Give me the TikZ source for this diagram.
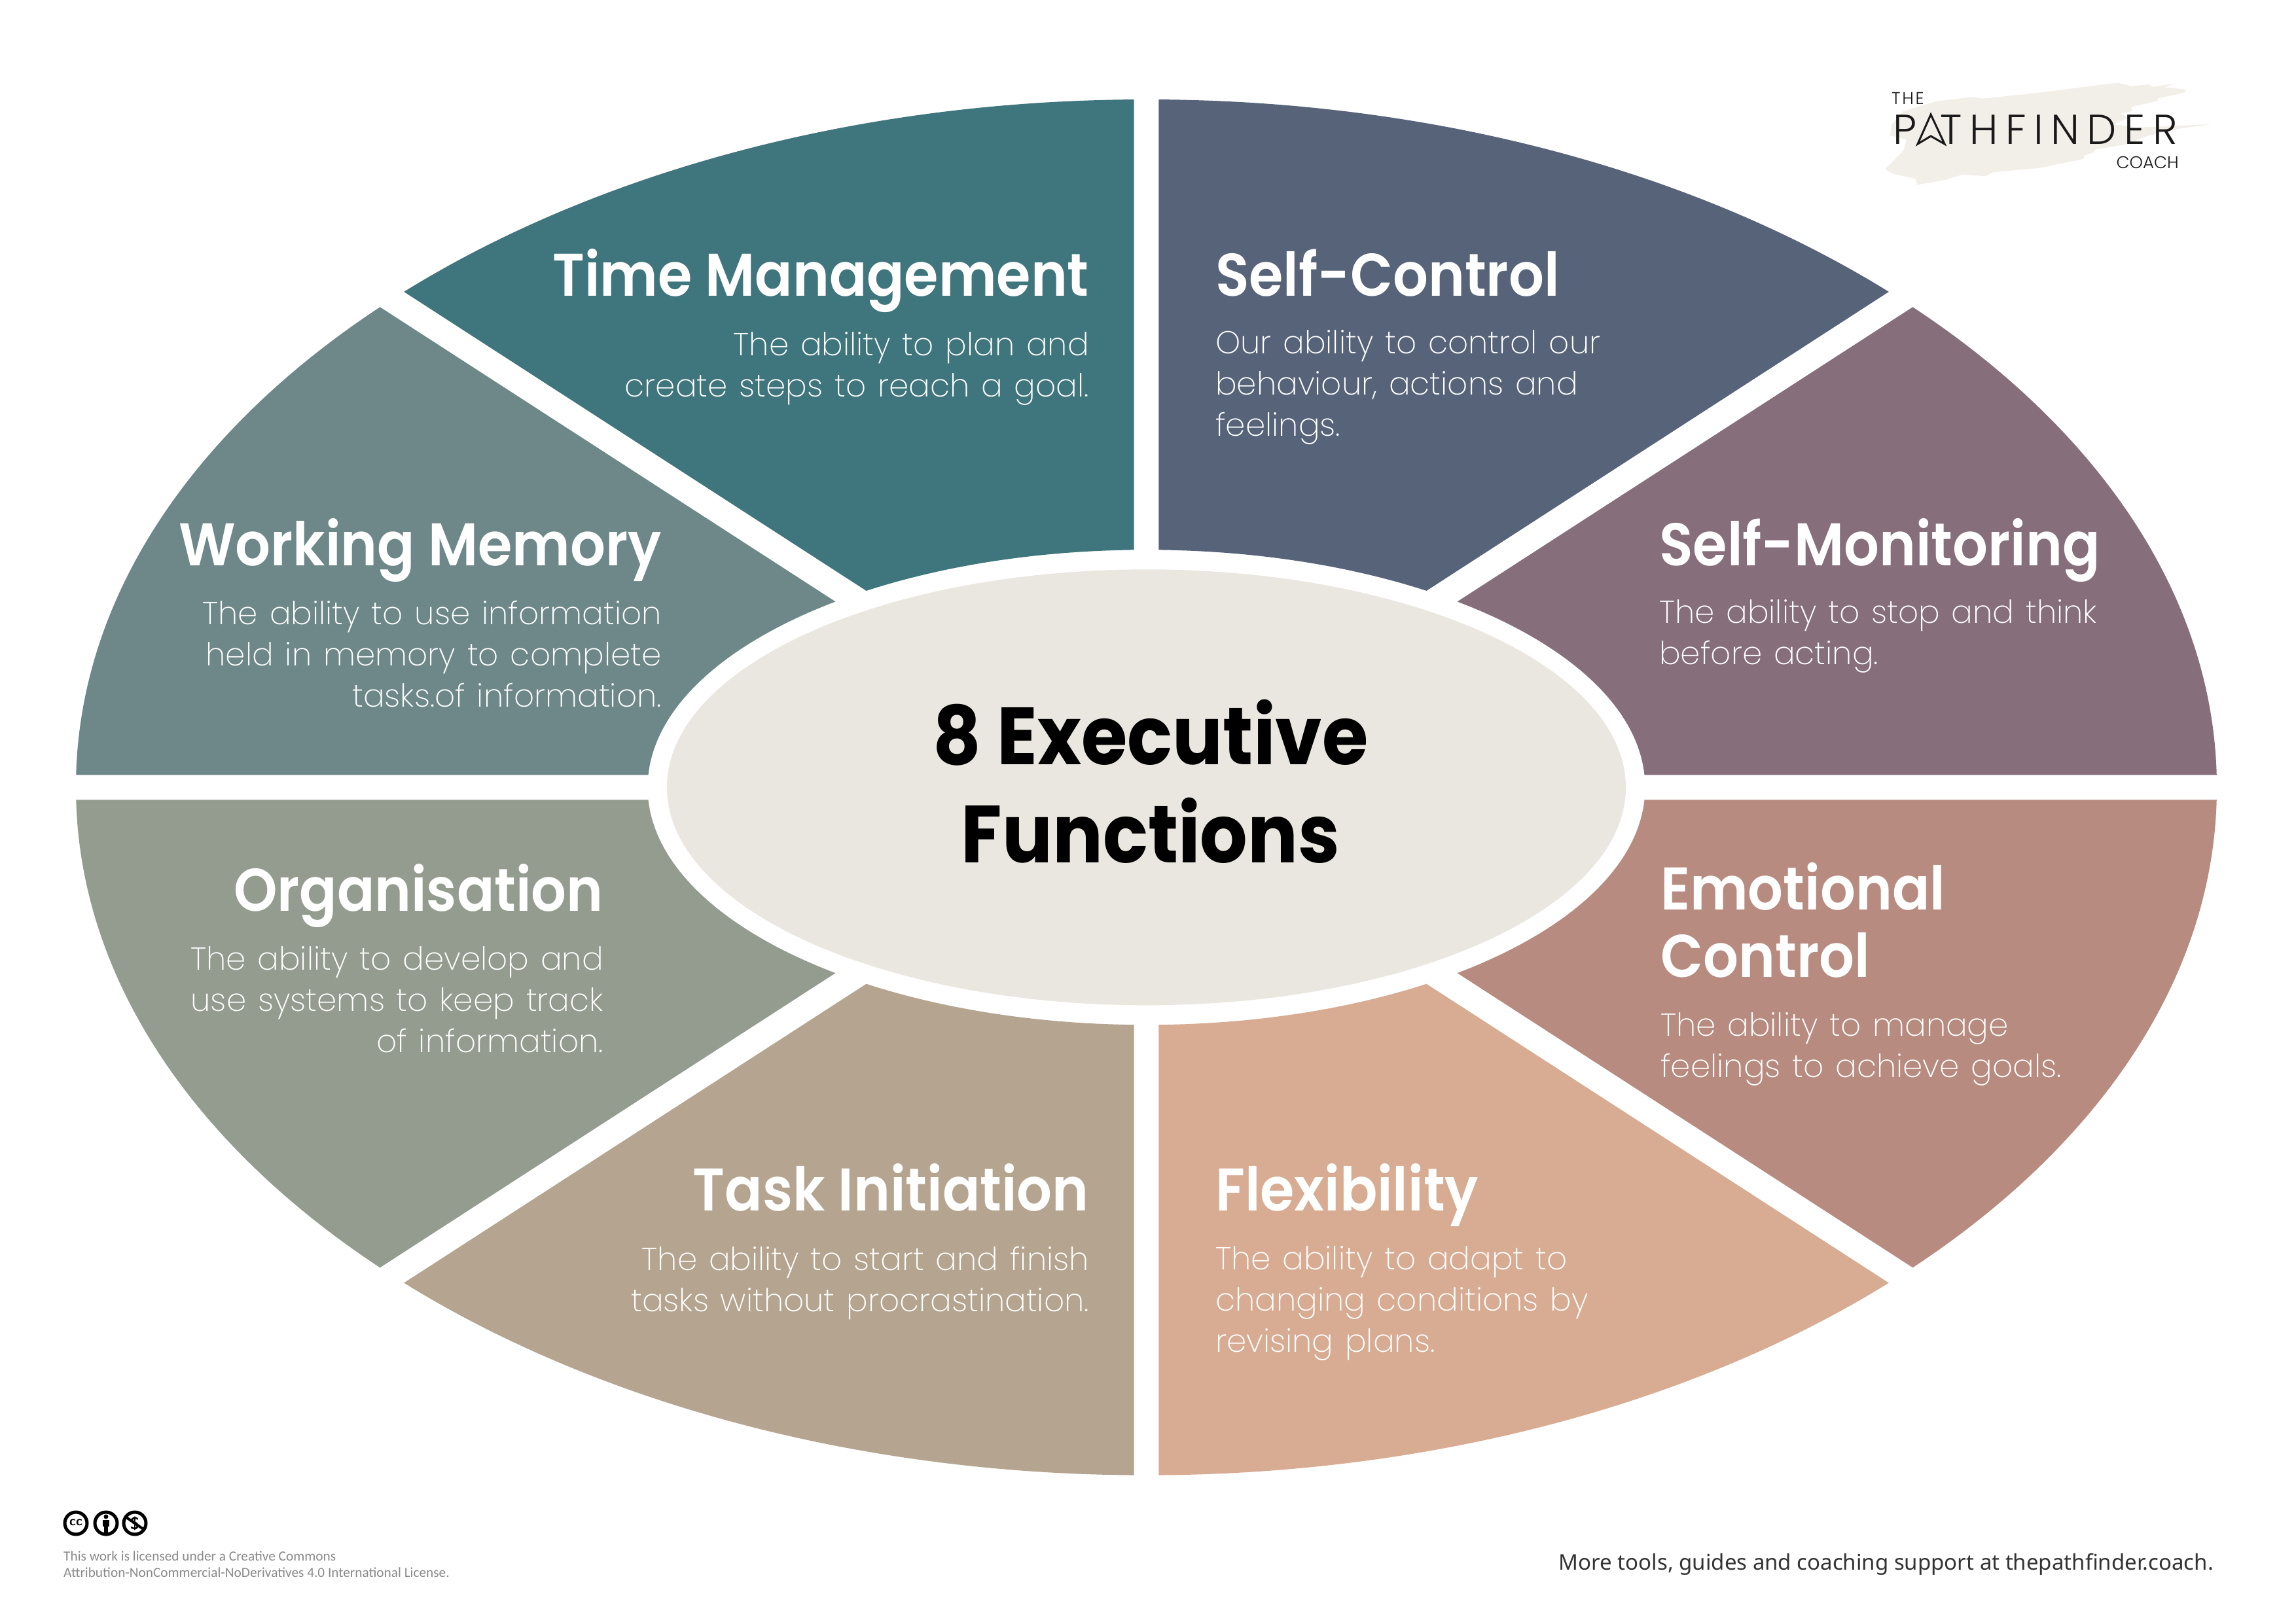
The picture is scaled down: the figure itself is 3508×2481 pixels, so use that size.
\documentclass[tikz,border=0pt]{standalone}
\usetikzlibrary{shapes.geometric}
\usepackage{fontspec}
\setmainfont{Noto Sans}
\newfontfamily\titlefont[FakeStretch=0.92]{Poppins SemiBold}
\newfontfamily\centrefont[FakeStretch=0.92]{Poppins Bold}
\newfontfamily\bodyfont[WordSpace=1.3]{Poppins ExtraLight}
\newfontfamily\logofont{Poppins Light}
\newfontfamily\licfont{Carlito}
\definecolor{cTM}{HTML}{3F757C}
\definecolor{cSC}{HTML}{566379}
\definecolor{cWM}{HTML}{6E8889}
\definecolor{cSM}{HTML}{866E7A}
\definecolor{cOR}{HTML}{949C8F}
\definecolor{cTI}{HTML}{B5A590}
\definecolor{cFL}{HTML}{D8AC93}
\definecolor{cEC}{HTML}{B88B80}
\definecolor{cCT}{HTML}{EAE7E0}
\definecolor{cBR}{HTML}{F2EEE8}
\definecolor{cLI}{HTML}{8A8A8A}
\tikzset{
  ttl/.style={text=white,inner sep=0pt,font=\titlefont\fontsize{92}{103}\selectfont},
  bdy/.style={text=white,inner sep=0pt,font=\bodyfont\fontsize{48.5}{63}\selectfont},
  ttlR/.style={ttl,anchor=base east,align=right},
  ttlL/.style={ttl,anchor=base west,align=left},
  bdyR/.style={bdy,anchor=base east,align=right},
  bdyL/.style={bdy,anchor=base west,align=left},
  ccring/.style={draw=black,line width=5pt,fill=white}
}
\newcommand{\ringfill}[1]{\fill[#1,even odd rule] (0,0) ellipse [x radius=1635.5pt,y radius=1051.3pt] (0,0) ellipse [x radius=762pt,y radius=363pt];}
\newcommand{\tileA}[3]{\begin{scope}[shift={(1751.5,1203.3)},xscale=#2,yscale=#3]
  \clip (-18.8,-35.7) -- (-18.8,-1200) -- (-1800,-1200) -- (-1800,-1188) -- cycle;
  \ringfill{#1}\end{scope}}
\newcommand{\tileB}[3]{\begin{scope}[shift={(1751.5,1203.3)},xscale=#2,yscale=#3]
  \clip (-65.7,-19) -- (-1800,-1141) -- (-1800,-19) -- cycle;
  \ringfill{#1}\end{scope}}
\begin{document}
\begin{tikzpicture}[x=1pt,y=-1pt]
\useasboundingbox (0,0) rectangle (3508,2481);
\fill[white] (0,0) rectangle (3508,2481);
% logo brush
\begin{scope}[shift={(2800,80)},xscale=0.4515,yscale=0.3333]
\fill[cBR] (965,140) -- (1010,155) -- (1070,148) -- (1085,158) -- (1165,142) -- (1120,160) -- (1190,170) -- (1195,182) -- (1100,212) -- (1100,222) -- (1010,250) -- (1012,270) -- (975,280) -- (1000,300) -- (950,330) -- (1030,345) -- (1280,330) -- (1180,348) -- (1060,385) -- (1000,420) -- (890,445) -- (880,460) -- (850,475) -- (850,488) -- (700,530) -- (540,550) -- (520,568) -- (440,560) -- (380,585) -- (285,608) -- (282,580) -- (200,555) -- (178,535) -- (240,450) -- (250,400) -- (195,380) -- (200,330) -- (240,270) -- (350,225) -- (470,205) -- (510,212) -- (700,185) -- (900,150) -- cycle;
\end{scope}
\node[anchor=base west,inner sep=0pt,text=black!90,font=\logofont\fontsize{26}{26}\selectfont\addfontfeature{LetterSpace=10}] (lthe) at (2890,159) {THE};
\node[anchor=base west,inner sep=0pt,text=black!90,font=\logofont\fontsize{64}{64}\selectfont\addfontfeature{LetterSpace=18}] (lpath) at (2892,220) {P\kern 36pt THFINDER};
\node[anchor=base east,inner sep=0pt,text=black!90,font=\logofont\fontsize{26}{26}\selectfont] (lcoach) at (3329,257) {COACH};
\draw[black!90,line width=3pt,line join=miter] (2950,175) -- (2971,220) -- (2950,208) -- (2930,220) -- cycle;
% tiles
\tileA{cTM}{1}{1}
\tileA{cSC}{-1}{1}
\tileB{cWM}{1}{1}
\tileB{cSM}{-1}{1}
\tileB{cOR}{1}{-1}
\tileB{cEC}{-1}{-1}
\tileA{cTI}{1}{-1}
\tileA{cFL}{-1}{-1}
% centre
\node[ellipse,fill=cCT,minimum width=1465pt,minimum height=666pt,inner sep=0pt] (centre) at (1751.5,1203.3) {};
\node[anchor=base,inner sep=0pt,text=black,align=center,font=\centrefont\fontsize{124}{150}\selectfont] (ctext) at (1758,1318) {8 Executive\\Functions};
% titles and bodies
\node[ttlR] (t1) at (1664,452) {Time Management};
\node[bdyR] (b1) at (1664,606) {The ability to plan and\\create steps to reach a goal.};
\node[ttlL] (t2) at (1857,452) {Self-Control};
\node[bdyL] (b2) at (1857,666) {Our ability to control our\\behaviour, actions and\\feelings.};
\node[ttlR] (t3) at (1011,864) {Working Memory};
\node[bdyR] (b3) at (1011,1080) {The ability to use information\\held in memory to complete\\tasks.of information.};
\node[ttlL] (t4) at (2535,864) {Self-Monitoring};
\node[bdyL] (b4) at (2535,1015) {The ability to stop and think\\before acting.};
\node[ttlR] (t5) at (922,1392) {Organisation};
\node[bdyR] (b5) at (922,1608) {The ability to develop and\\use systems to keep track\\of information.};
\node[ttlL] (t6) at (2537,1493) {Emotional\\Control};
\node[bdyL] (b6) at (2537,1646) {The ability to manage\\feelings to achieve goals.};
\node[ttlR] (t7) at (1664,1850) {Task Initiation};
\node[bdyR] (b7) at (1664,2004) {The ability to start and finish\\tasks without procrastination.};
\node[ttlL] (t8) at (1857,1850) {Flexibility};
\node[bdyL] (b8) at (1857,2066) {The ability to adapt to\\changing conditions by\\revising plans.};
% footer
\node[anchor=base east,inner sep=0pt,text=black!80,font=\fontsize{33}{33}\selectfont] (more) at (3382,2399) {More tools, guides and coaching support at thepathfinder.coach.};
\node[anchor=base west,inner sep=0pt,text=cLI,align=left,font=\licfont\fontsize{21.3}{25}\selectfont] (lic) at (97,2410) {This work is licensed under a Creative Commons\\Attribution-NonCommercial-NoDerivatives 4.0 International License.};
% cc icons
\draw[ccring] (116,2328) circle (17pt);
\node[inner sep=0pt,font=\sffamily\bfseries\fontsize{20}{20}\selectfont] (cc) at (116,2327) {cc};
\draw[ccring] (162,2328) circle (17pt);
\fill (162,2318) circle (3.5pt);
\fill (157,2323) rectangle (167,2333);
\fill (159,2333) rectangle (165,2343);
\draw[ccring] (206,2328) circle (17pt);
\node[inner sep=0pt,font=\sffamily\bfseries\fontsize{26}{26}\selectfont] (dol) at (206,2328) {\$};
\draw[line width=4pt] (193,2319) -- (219,2337);
\end{tikzpicture}
\end{document}
